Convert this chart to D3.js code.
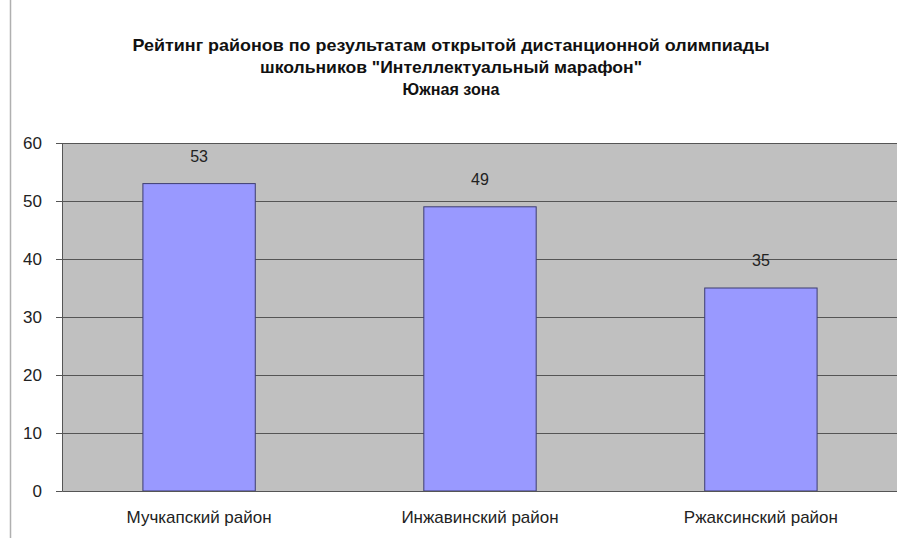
<!DOCTYPE html>
<html><head><meta charset="utf-8">
<script src="https://cdn.jsdelivr.net/npm/d3@7"></script>
<style>body{margin:0;background:#fff}svg{display:block}</style>
</head><body>
<script>
const categories = ["Мучкапский район", "Инжавинский район", "Ржаксинский район"];
const values = [53, 49, 35];
const yTicks = [0, 10, 20, 30, 40, 50, 60];
const titleLines = ["Рейтинг районов по результатам открытой дистанционной олимпиады", "школьников \"Интеллектуальный марафон\"", "Южная зона"];

const W = 897, H = 538;
const m = {left: 62, right: -1, top: 143, bottom: 47};
const svg = d3.select("body").append("svg").attr("width", W).attr("height", H);
const font = "Arial, 'Liberation Sans', sans-serif";

// outer border
svg.append("line").attr("x1", 10.5).attr("x2", 10.5).attr("y1", 0).attr("y2", H).attr("stroke", "#b0b0b0").attr("stroke-width", 1.5);

const x = d3.scaleBand().domain(categories).range([m.left, W - m.right]).paddingInner(0.6).paddingOuter(0.288);
const y = d3.scaleLinear().domain([0, 60]).range([H - m.bottom, m.top]);

svg.append("rect").attr("x", m.left).attr("y", m.top).attr("width", W - m.right - m.left).attr("height", H - m.bottom - m.top).attr("fill", "#c0c0c0");

// gridlines
svg.append("g").selectAll("line").data(yTicks.filter(d => d > 0)).join("line")
  .attr("x1", m.left).attr("x2", W - m.right).attr("y1", d => Math.round(y(d)) + 0.5).attr("y2", d => Math.round(y(d)) + 0.5)
  .attr("stroke", "#555").attr("stroke-width", 1);

// bars
svg.append("g").selectAll("rect").data(values).join("rect")
  .attr("x", (d, i) => x(categories[i])).attr("width", x.bandwidth())
  .attr("y", d => y(d)).attr("height", d => y(0) - y(d))
  .attr("fill", "#9999ff").attr("stroke", "#3d3d70").attr("stroke-width", 1);

// value labels
svg.append("g").selectAll("text").data(values).join("text")
  .attr("x", (d, i) => x(categories[i]) + x.bandwidth() / 2)
  .attr("y", d => y(d) - 22)
  .attr("text-anchor", "middle").attr("font-family", font).attr("font-size", 16).attr("fill", "#222")
  .text(d => d);

// y axis
const yAxis = svg.append("g").attr("transform", `translate(${m.left},0)`)
  .call(d3.axisLeft(y).tickValues(yTicks).tickSize(6).tickPadding(14));
yAxis.select(".domain").attr("stroke", "#555");
yAxis.selectAll(".tick line").attr("stroke", "#555");
yAxis.selectAll("text").attr("font-family", font).attr("font-size", 17).attr("fill", "#222");

// x axis
const xAxis = svg.append("g").attr("transform", `translate(0,${H - m.bottom})`)
  .call(d3.axisBottom(x).tickSize(0).tickPadding(20));
xAxis.select(".domain").attr("stroke", "#555");
xAxis.selectAll("text").attr("font-family", font).attr("font-size", 17).attr("fill", "#222");

// title
const tw = [637, 382, 97];
svg.append("g").selectAll("text").data(titleLines).join("text")
  .attr("x", 451).attr("y", (d, i) => 51 + i * 22)
  .attr("text-anchor", "middle").attr("font-family", font).attr("font-weight", "bold").attr("font-size", 17).attr("fill", "#111")
  .attr("textLength", (d, i) => tw[i]).attr("lengthAdjust", "spacingAndGlyphs")
  .text(d => d);
</script>
</body></html>
